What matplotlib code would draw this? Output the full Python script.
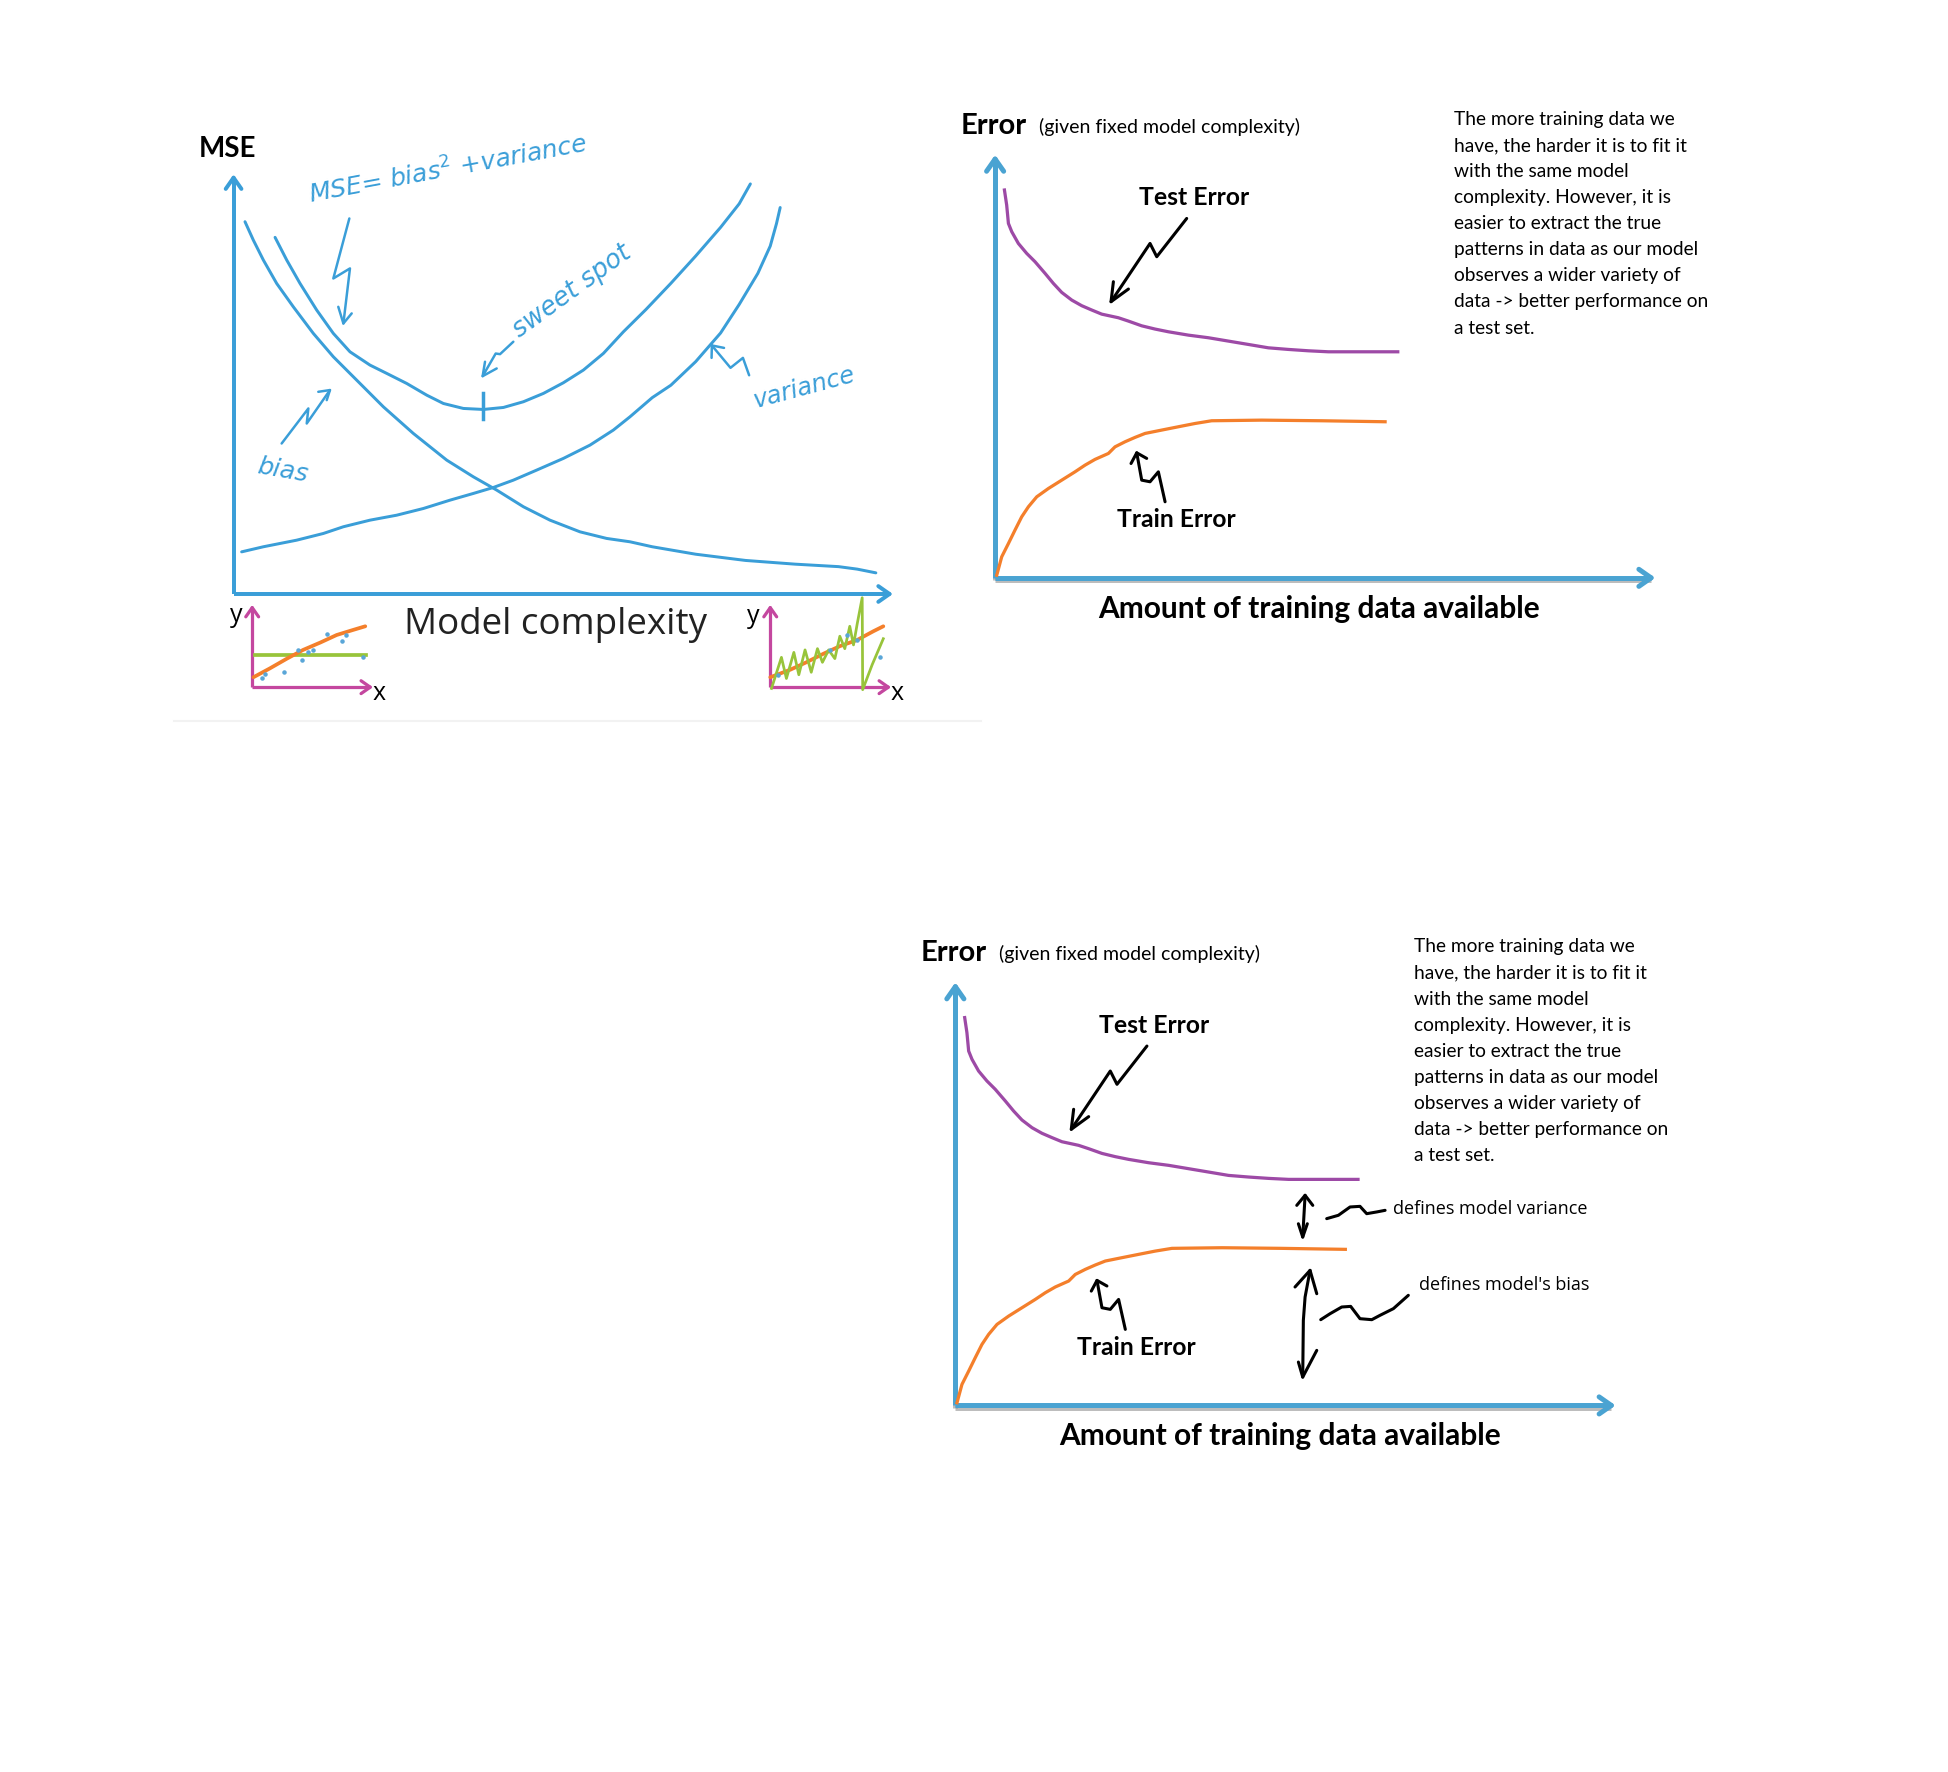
import matplotlib
matplotlib.use('Agg')
import matplotlib.pyplot as plt
import matplotlib.patheffects as pe
import numpy as np

# ---------------- data (coordinates on a 1568 x 1426 reference canvas) ----------------
# Panel 1: bias / variance / MSE vs model complexity
bias_x = [197.2, 203.9, 212.0, 222.7, 236.1, 252.2, 268.3, 287.1, 308.6, 332.7, 359.6, 381.0, 399.8,
          421.3, 442.7, 466.9, 488.3, 507.1, 525, 560, 600, 640, 675, 690, 705]
bias_y = [178.4, 193.2, 209.3, 228.1, 246.9, 268.3, 287.1, 305.9, 327.4, 348.8, 370.3, 383.7, 394.4,
          407.8, 418.6, 428.0, 433.3, 436.0, 440, 446, 451, 454, 456, 458, 461]
var_x = [194.5, 212.0, 238.8, 260.3, 276.4, 297.8, 319.3, 340.8, 362.2, 381.0, 397.1, 413.2, 432.0,
         453.5, 474.9, 493.7, 507.1, 525, 540, 560, 580, 595, 610, 620, 625, 628]
var_y = [444.1, 440.0, 434.7, 429.3, 423.9, 418.6, 414.6, 409.2, 402.5, 397.1, 392.3, 386.4, 378.3,
         368.9, 358.2, 346.1, 335.4, 320, 310, 291, 268, 245, 220, 198, 180, 167]
mse_x = [221.4, 230.8, 241.5, 254.9, 268.3, 281.7, 297.8, 311.3, 327.4, 343.5, 356.9, 373.0, 389.1,
         405.2, 421.3, 437.4, 453.5, 469.6, 485.7, 501.8, 520, 540, 560, 580, 595, 604]
mse_y = [191.0, 209.3, 228.1, 249.5, 268.3, 283.1, 293.8, 300.5, 308.6, 318.0, 324.7, 328.7, 329.5,
         327.9, 323.3, 316.6, 308.0, 297.8, 284.4, 267.0, 249, 228, 206, 183, 164, 148]
sweet_x = [389, 389]
sweet_y = [316, 337]

# insets (low / high complexity fits)
lo_fit_x = [204, 217, 231, 244, 258, 271, 284, 294]
lo_fit_y = [545, 538, 530, 523, 517, 511, 507, 504]
lo_flat_x = [205, 295]
lo_flat_y = [527, 527]
lo_pts_x = [210.6, 213.3, 228.6, 240.1, 242.8, 248.2, 252.2, 263.5, 275.0, 278.5, 292.5]
lo_pts_y = [546.0, 542.0, 540.7, 522.7, 531.3, 524.6, 522.7, 510.4, 515.7, 511.1, 528.6]
hi_fit_x = [620, 636, 649, 663, 676, 690, 703, 711]
hi_fit_y = [545, 539, 533, 526, 520, 515, 508, 504]
hi_wig_x = [621, 629, 633, 639, 643, 648, 653, 658, 662, 667, 672, 676, 680, 684, 687, 690, 694, 694.4, 702, 711]
hi_wig_y = [554, 529, 546, 525, 543, 523, 541, 522, 533, 523, 530, 512, 522, 504, 519, 502, 481, 555, 535, 514]
hi_pts_x = [626.5, 668.1, 681.5, 690.1, 708.4]
hi_pts_y = [543.4, 523.2, 511.1, 515.2, 528.6]

# Panel 2: learning curves
test_x = [808.5, 810.3, 811.7, 814.4, 819.7, 826.4, 833.1, 841.2, 847.9, 854.6, 862.7, 870.7, 878.8,
          886.8, 900.2, 908.3, 919.0, 929.7, 940.5, 956.6, 972.7, 988.8, 1004.9, 1020.9, 1037.0,
          1053.2, 1069.3, 1125.1]
test_y = [152.9, 165.0, 179.8, 186.5, 195.9, 203.9, 210.6, 220.0, 228.1, 235.3, 241.5, 246.0, 249.5,
          252.8, 255.7, 258.4, 262.2, 264.8, 267.0, 269.7, 271.8, 274.5, 277.2, 279.9, 281.2,
          282.3, 283.1, 283.1]
train_x = [802.3, 806.3, 811.7, 817.0, 822.4, 827.8, 834.5, 843.9, 854.6, 865.3, 873.4, 881.4, 892.2,
           897.5, 905.6, 913.6, 921.7, 935.1, 951.2, 961.9, 975.3, 1015.6, 1063.9, 1114.9]
train_y = [462.9, 448.1, 437.4, 426.6, 415.9, 407.8, 399.8, 393.1, 386.4, 379.7, 374.3, 369.7, 364.9,
           359.6, 355.5, 352.0, 348.8, 346.1, 342.9, 340.8, 338.6, 338.1, 338.6, 339.4]

para_lines = ["The more training data we",
              "have, the harder it is to fit it",
              "with the same model",
              "complexity. However, it is",
              "easier to extract the true",
              "patterns in data as our model",
              "observes a wider variety of",
              "data -> better performance on",
              "a test set."]

# Panel 3 offset relative to panel 2
p3_dx, p3_dy = -32, 666

# ---------------- figure ----------------
fig = plt.figure(figsize=(19.48, 17.72), dpi=100)
ax = fig.add_axes([0, 0, 1, 1])
ax.set_xlim(0, 1568)
ax.set_ylim(1426, 0)
ax.axis('off')

PX = 0.894  # points per reference pixel

BLUE1 = '#3a9ed8'
BLUE2 = '#4aa3d2'
MAG = '#c4479f'
GREEN = '#98c43b'
ORANGE = '#f47f2b'
PURPLE = '#9d4aa6'
BLACK = '#000000'


def chevron(tip, prev, L, ang, color, lw):
    tx, ty = tip
    px_, py_ = prev
    d = np.array([tx - px_, ty - py_], dtype=float)
    d /= np.hypot(*d)
    for s in (1, -1):
        a = np.deg2rad(ang) * s
        r = np.array([d[0] * np.cos(a) - d[1] * np.sin(a), d[0] * np.sin(a) + d[1] * np.cos(a)])
        ax.plot([tx, tx - L * r[0]], [ty, ty - L * r[1]], color=color, lw=lw,
                solid_capstyle='round')


def axis_arrow(x0, y0, x1, y1, color, lw, L, shadow=False):
    kw = {}
    if shadow:
        kw['path_effects'] = [pe.SimpleLineShadow(offset=(0, -1.5), shadow_color='#7a7a7a', alpha=0.5),
                              pe.Normal()]
    ax.plot([x0, x1], [y0, y1], color=color, lw=lw, solid_capstyle='butt', **kw)
    chevron((x1, y1), (x0, y0), L, 35, color, lw)


def hand(xs, ys, color=BLACK, lw=2.2):
    ax.plot(xs, ys, color=color, lw=lw, solid_capstyle='round', solid_joinstyle='round')


# ---------------- panel 1 ----------------
ax.plot([140, 790], [580, 580], color='#f2f2f2', lw=1.5)
axis_arrow(188, 478, 188, 143, BLUE1, 3.2 * PX, 11)
axis_arrow(188, 478, 716, 478, BLUE1, 3.2 * PX, 11)
for xs, ys in ((bias_x, bias_y), (var_x, var_y), (mse_x, mse_y)):
    ax.plot(xs, ys, color=BLUE1, lw=2.4 * PX, solid_capstyle='round', solid_joinstyle='round')
ax.plot(sweet_x, sweet_y, color=BLUE1, lw=2.8 * PX)

ax.text(160, 120, 'MSE', fontsize=20, fontweight='bold', family='Lato', ha='left', va='center')
ax.text(447, 503, 'Model complexity', fontsize=26.5, family='Open Sans', color='#222222',
        ha='center', va='center')

hw = dict(family='DejaVu Sans', style='oblique', color=BLUE1, rotation_mode='anchor')
ax.text(250, 164, 'MSE= bias$^2$ +variance', fontsize=18, rotation=10.5, ha='left', va='baseline', **hw)
ax.text(418, 272, 'sweet spot', fontsize=18.5, rotation=36, ha='left', va='baseline', **hw)
ax.text(206, 381, 'bias', fontsize=18, rotation=-10, ha='left', va='baseline', **hw)
ax.text(608, 328, 'variance', fontsize=17.5, rotation=15, ha='left', va='baseline', **hw)

# handwritten arrows panel 1
hand([281.2, 268.3, 281.7, 276.4], [175.8, 224.1, 216.0, 260.3], BLUE1, 2.0 * PX)
hand([272.3, 276.4, 283.1], [246.9, 260.3, 252.2], BLUE1, 2.0 * PX)
hand([413.2, 402.5, 399.0, 388.5], [275.0, 285.0, 284.5, 302.7], BLUE1, 2.0 * PX)
hand([390.4, 388.5, 399.8], [291.1, 302.7, 296.5], BLUE1, 2.0 * PX)
hand([226.7, 248.2, 246.9, 265.6], [356.9, 328.7, 340.8, 313.9], BLUE1, 2.0 * PX)
hand([256.2, 265.6, 263.0], [315.3, 313.9, 322.0], BLUE1, 2.0 * PX)
hand([603, 598, 588, 573], [302, 288, 296, 278], BLUE1, 2.0 * PX)
chevron((573, 278), (581, 288), 10, 40, BLUE1, 2.0 * PX)

# insets
axis_arrow(203, 553, 203, 489, MAG, 2.6 * PX, 9)
axis_arrow(203, 553, 298, 553, MAG, 2.6 * PX, 9)
ax.plot(lo_flat_x, lo_flat_y, color=GREEN, lw=3.0 * PX)
ax.plot(lo_fit_x, lo_fit_y, color=ORANGE, lw=3.0 * PX, solid_capstyle='round')
ax.scatter(lo_pts_x, lo_pts_y, s=5, color='#5aa6d8', zorder=3)
ax.text(190, 495, 'y', fontsize=18, family='Open Sans', ha='center', va='center')
ax.text(305, 558, 'x', fontsize=18, family='Open Sans', ha='center', va='center')

axis_arrow(620, 553, 620, 489, MAG, 2.6 * PX, 9)
axis_arrow(620, 553, 715, 553, MAG, 2.6 * PX, 9)
ax.plot(hi_fit_x, hi_fit_y, color=ORANGE, lw=3.0 * PX, solid_capstyle='round')
ax.plot(hi_wig_x, hi_wig_y, color=GREEN, lw=2.2 * PX, solid_joinstyle='round')
ax.scatter(hi_pts_x, hi_pts_y, s=5, color='#5aa6d8', zorder=3)
ax.text(606, 496, 'y', fontsize=18, family='Open Sans', ha='center', va='center')
ax.text(722, 558, 'x', fontsize=18, family='Open Sans', ha='center', va='center')


# ---------------- panels 2 and 3 ----------------
def learning_panel(dx, dy):
    axis_arrow(801 + dx, 465 + dy, 801 + dx, 128 + dy, BLUE2, 4.0 * PX, 12, shadow=True)
    axis_arrow(801 + dx, 465 + dy, 1329 + dx, 465 + dy, BLUE2, 4.0 * PX, 12, shadow=True)
    ax.plot(np.array(test_x) + dx, np.array(test_y) + dy, color=PURPLE, lw=2.6 * PX,
            solid_joinstyle='round')
    ax.plot(np.array(train_x) + dx, np.array(train_y) + dy, color=ORANGE, lw=2.6 * PX,
            solid_joinstyle='round')
    ax.text(773 + dx, 101 + dy, 'Error', fontsize=21, fontweight='bold', family='Lato',
            ha='left', va='center')
    ax.text(836 + dx, 102 + dy, '(given fixed model complexity)', fontsize=14, family='Lato',
            ha='left', va='center')
    ax.text(961 + dx, 159 + dy, 'Test Error', fontsize=17.8, fontweight='bold', family='Lato',
            ha='center', va='center')
    ax.text(947 + dx, 418 + dy, 'Train Error', fontsize=17.8, fontweight='bold', family='Lato',
            ha='center', va='center')
    ax.text(1062 + dx, 490 + dy, 'Amount of training data available', fontsize=21.5, fontweight='bold',
            family='Lato', ha='center', va='center')
    for i, line in enumerate(para_lines):
        ax.text(1170 + dx, 96 + 21 * i + dy, line, fontsize=13.8, family='Lato', ha='left', va='center')
    # arrows
    hand(np.array([955.2, 931.1, 925.7, 894.3]) + dx, np.array([175.8, 206.6, 195.9, 242.8]) + dy)
    hand(np.array([896.2, 894.3, 908.3]) + dx, np.array([226.7, 242.8, 232.6]) + dy)
    hand(np.array([937.8, 932.4, 925.7, 919.0, 915.0]) + dx, np.array([403.8, 379.7, 387.7, 386.4, 364.4]) + dy)
    hand(np.array([910.4, 915.0, 923.0]) + dx, np.array([373.0, 364.4, 368.9]) + dy)


learning_panel(0, 0)
learning_panel(p3_dx, p3_dy)

# extra annotations in panel 3
hand([1050.5, 1048.6], [961.9, 995.5])
hand([1043.8, 1050.5, 1056.7], [970.0, 961.9, 970.0])
hand([1045.1, 1048.6, 1052.3], [984.8, 995.5, 984.8])
hand([1067.9, 1077.3, 1086.7, 1094.7, 1100.1, 1108.2, 1114.9], [980.7, 978.0, 971.3, 970.8, 976.7, 975.3, 974.0])
hand([1054.5, 1050.5, 1049.1, 1048.6], [1022.3, 1043.8, 1062.6, 1108.2])
hand([1042.4, 1054.5, 1059.9], [1035.7, 1022.3, 1041.1])
hand([1045.1, 1048.6, 1059.9], [1096.1, 1108.2, 1086.7])
hand([1063.1, 1070.6, 1080.0, 1087.2, 1094.7, 1104.2, 1110.8, 1121.6, 1133.6],
     [1062.0, 1057.2, 1051.8, 1051.3, 1061.2, 1062.0, 1058.5, 1053.1, 1042.4])
ax.text(1121, 973, 'defines model variance', fontsize=13, family='Open Sans', ha='left', va='center')
ax.text(1142, 1034, "defines model's bias", fontsize=13, family='Open Sans', ha='left', va='center')

fig.savefig('out.png', dpi=100, facecolor='white')
